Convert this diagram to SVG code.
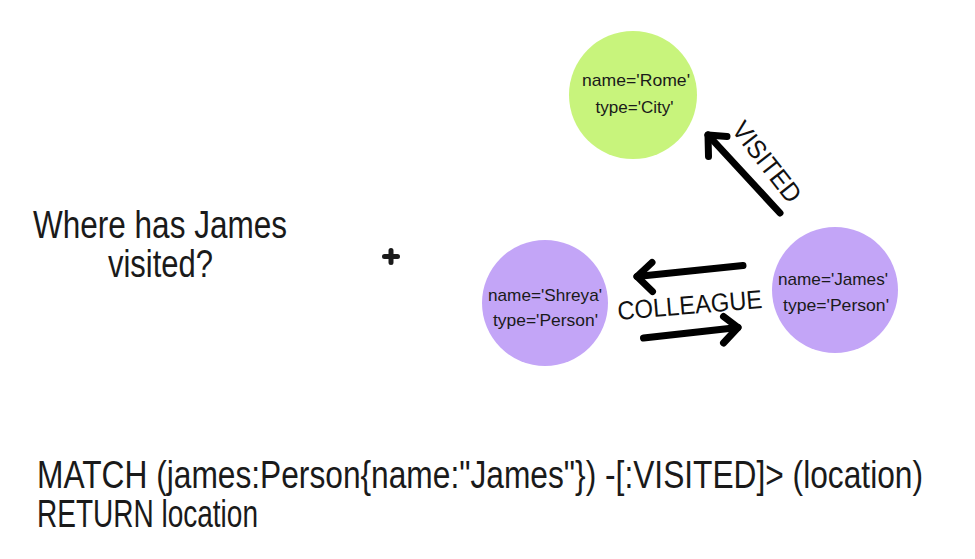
<svg xmlns="http://www.w3.org/2000/svg" width="975" height="559" viewBox="0 0 975 559">
  <style>
    .bg { fill: #ffffff; }
    .city { fill: #c8f47c; }
    .person { fill: #c3a5f7; }
    .lbl { font-family: "Liberation Sans", Arial, sans-serif; fill: #1a1a1a; font-size: 17px; text-anchor: middle; }
    .big { font-family: "Liberation Sans", Arial, sans-serif; fill: #1a1a1a; font-size: 32px; }
    .rel { font-family: "Liberation Sans", Arial, sans-serif; fill: #111111; text-anchor: middle; }
    .edge { fill: none; stroke: #000000; stroke-width: 7; stroke-linecap: round; stroke-linejoin: round; }
  </style>
  <rect class="bg" x="0" y="0" width="975" height="559"/>

  <g id="question">
    <text class="big" transform="translate(33 238) scale(1 1.2)" x="0" y="0" textLength="254" lengthAdjust="spacingAndGlyphs">Where has James</text>
    <text class="big" transform="translate(108 277) scale(1 1.2)" x="0" y="0" textLength="105" lengthAdjust="spacingAndGlyphs">visited?</text>
  </g>

  <g id="plus">
    <path d="M384.5 256.5 H397.5 M391 250.5 V262.5" fill="none" stroke="#1a1a1a" stroke-width="5" stroke-linecap="round"/>
  </g>

  <g id="node-rome">
    <circle class="city" cx="633" cy="95" r="64"/>
    <text class="lbl" x="636" y="86" textLength="108" lengthAdjust="spacingAndGlyphs">name='Rome'</text>
    <text class="lbl" x="634.5" y="113" textLength="78" lengthAdjust="spacingAndGlyphs">type='City'</text>
  </g>

  <g id="node-shreya">
    <circle class="person" cx="545" cy="303" r="63"/>
    <text class="lbl" x="545" y="300.5" textLength="114" lengthAdjust="spacingAndGlyphs">name='Shreya'</text>
    <text class="lbl" x="545.5" y="326" textLength="105" lengthAdjust="spacingAndGlyphs">type='Person'</text>
  </g>

  <g id="node-james">
    <circle class="person" cx="835" cy="290" r="63"/>
    <text class="lbl" x="833" y="285" textLength="110" lengthAdjust="spacingAndGlyphs">name='James'</text>
    <text class="lbl" x="836" y="311" textLength="106" lengthAdjust="spacingAndGlyphs">type='Person'</text>
  </g>

  <g id="connectors">
    <g id="edge-visited">
      <path class="edge" d="M780 213 L708 135"/>
      <path class="edge" d="M727 136.5 L708 135 L708.5 156.5"/>
      <text class="rel" font-size="26" transform="translate(767 162) rotate(52)" x="0" y="9" textLength="95" lengthAdjust="spacingAndGlyphs">VISITED</text>
    </g>
    <g id="edge-colleague">
      <path class="edge" d="M743 265.5 L637 276.5"/>
      <path class="edge" d="M652 262.5 L637 276.5 L652.5 291.5"/>
      <path class="edge" d="M643.5 338 L738 327.5"/>
      <path class="edge" d="M723.5 316.5 L738 327.5 L723.5 343"/>
      <text class="rel" font-size="26" transform="translate(690.5 314) rotate(-4.7)" x="0" y="0" textLength="145" lengthAdjust="spacingAndGlyphs">COLLEAGUE</text>
    </g>
  </g>

  <g id="query">
    <text class="big" transform="translate(37 488) scale(1 1.2)" x="0" y="0" textLength="886" lengthAdjust="spacingAndGlyphs">MATCH (james:Person{name:"James"}) -[:VISITED]&gt; (location)</text>
    <text class="big" transform="translate(37 527) scale(1 1.2)" x="0" y="0" textLength="221" lengthAdjust="spacingAndGlyphs">RETURN location</text>
  </g>
</svg>
